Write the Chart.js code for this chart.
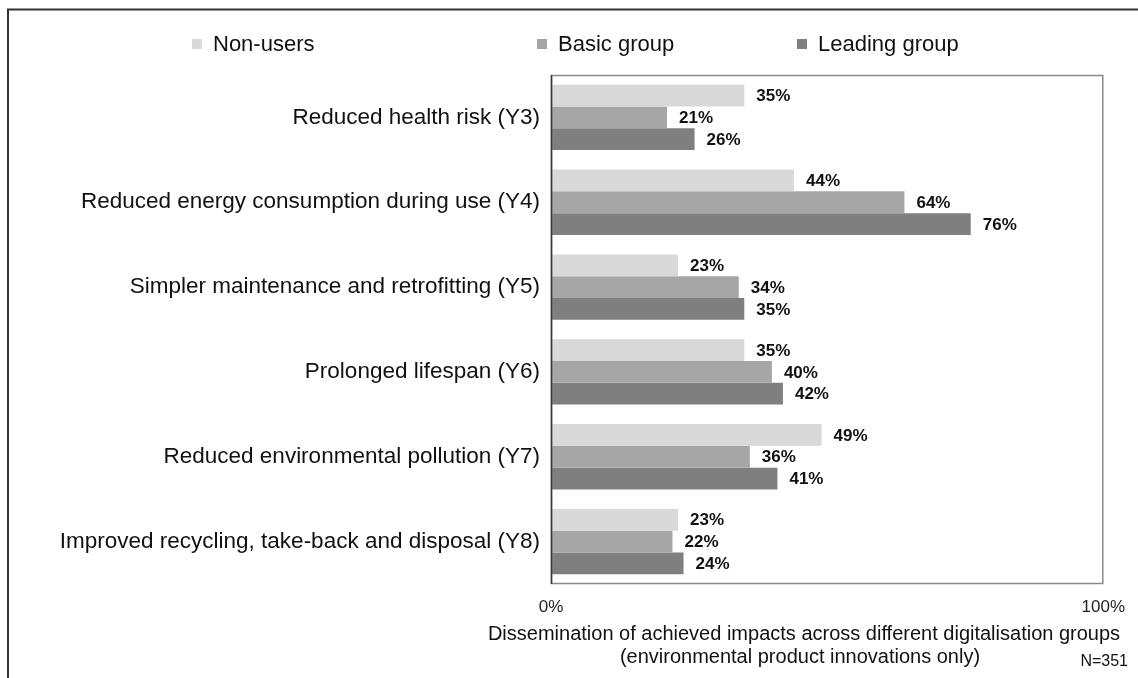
<!DOCTYPE html>
<html>
<head>
<meta charset="utf-8">
<script src="https://cdn.jsdelivr.net/npm/chart.js@4/dist/chart.umd.min.js"></script>
<style>
  html, body { margin: 0; padding: 0; background: #ffffff; }
  #wrap { position: relative; width: 1138px; height: 678px; }
  canvas { display: block; }
</style>
</head>
<body>
<div id="wrap"><canvas id="c" width="1138" height="678"></canvas></div>
<script>
// ---- data ----
const categories = [
  'Reduced health risk (Y3)',
  'Reduced energy consumption during use (Y4)',
  'Simpler maintenance and retrofitting (Y5)',
  'Prolonged lifespan (Y6)',
  'Reduced environmental pollution (Y7)',
  'Improved recycling, take-back and disposal (Y8)'
];
const seriesNames = ['Non-users', 'Basic group', 'Leading group'];
const nonUsers = [35, 44, 23, 35, 49, 23];
const basicGroup = [21, 64, 34, 40, 36, 22];
const leadingGroup = [26, 76, 35, 42, 41, 24];
const xTickValues = [0, 100];
const axisTitleLines = [
  'Dissemination of achieved impacts across different digitalisation groups',
  '(environmental product innovations only)'
];
const sampleNote = 'N=351';

// ---- styles ----
const colors = ['#d9d9d9', '#a6a6a6', '#7f7f7f'];
const FONT = '"Liberation Sans", Arial, sans-serif';

const decorPlugin = {
  id: 'decor',
  afterDatasetsDraw(chart) {
    const ctx = chart.ctx;
    ctx.save();
    ctx.font = 'bold 17px ' + FONT;
    ctx.fillStyle = '#111111';
    ctx.textAlign = 'left';
    ctx.textBaseline = 'middle';
    chart.data.datasets.forEach((ds, di) => {
      const meta = chart.getDatasetMeta(di);
      meta.data.forEach((el, i) => {
        ctx.fillText(ds.data[i] + '%', el.x + 12, el.y + 1);
      });
    });
    ctx.restore();
  },
  afterDraw(chart) {
    const ctx = chart.ctx;
    const a = chart.chartArea;
    ctx.save();
    // plot box
    ctx.strokeStyle = '#8a8a8a';
    ctx.lineWidth = 1.5;
    ctx.strokeRect(a.left + 0.5, a.top + 0.5, a.right - a.left - 1, a.bottom - a.top - 1);
    ctx.strokeStyle = '#3a3a3a';
    ctx.lineWidth = 1.5;
    ctx.beginPath();
    ctx.moveTo(a.left + 0.5, a.top);
    ctx.lineTo(a.left + 0.5, a.bottom);
    ctx.stroke();
    // outer frame (top and left)
    ctx.strokeStyle = '#333333';
    ctx.lineWidth = 2;
    ctx.beginPath();
    ctx.moveTo(8, 678);
    ctx.lineTo(8, 9.5);
    ctx.lineTo(1138, 9.5);
    ctx.stroke();
    // legend
    const legendX = [192, 537, 797];
    ctx.font = '22px ' + FONT;
    ctx.textBaseline = 'middle';
    ctx.textAlign = 'left';
    chart.data.datasets.forEach((ds, i) => {
      ctx.fillStyle = ds.backgroundColor;
      ctx.fillRect(legendX[i], 39, 10, 10);
      ctx.fillStyle = '#111111';
      ctx.fillText(ds.label, legendX[i] + 21, 45);
    });
    // axis title
    ctx.font = '20px ' + FONT;
    ctx.textAlign = 'center';
    ctx.fillStyle = '#111111';
    ctx.fillText(axisTitleLines[0], 804, 634);
    ctx.fillText(axisTitleLines[1], 800, 657);
    ctx.font = '16px ' + FONT;
    ctx.textAlign = 'right';
    ctx.fillText(sampleNote, 1128, 662);
    ctx.restore();
  }
};

new Chart(document.getElementById('c'), {
  type: 'bar',
  data: {
    labels: categories,
    datasets: [
      { label: seriesNames[0], data: nonUsers, backgroundColor: colors[0] },
      { label: seriesNames[1], data: basicGroup, backgroundColor: colors[1] },
      { label: seriesNames[2], data: leadingGroup, backgroundColor: colors[2] }
    ]
  },
  options: {
    indexAxis: 'y',
    responsive: false,
    devicePixelRatio: 1,
    animation: false,
    datasets: { bar: { categoryPercentage: 0.77, barPercentage: 1.0, borderWidth: 0 } },
    layout: { padding: { top: 75, right: 27, left: 0, bottom: 0 } },
    plugins: { legend: { display: false }, tooltip: { enabled: false } },
    scales: {
      x: {
        min: 0, max: 100,
        afterBuildTicks(s) { s.ticks = xTickValues.map(v => ({ value: v })); },
        afterFit(s) { s.height = 94; },
        grid: { display: false, drawTicks: false },
        border: { display: false },
        ticks: {
          callback: v => v + '%',
          font: { family: FONT, size: 17 },
          color: '#222222',
          padding: 13,
          maxRotation: 0
        }
      },
      y: {
        afterFit(s) { s.width = 551; },
        grid: { display: false, drawTicks: false },
        border: { display: false },
        ticks: {
          font: { family: FONT, size: 22.5 },
          color: '#111111',
          padding: 11
        }
      }
    }
  },
  plugins: [decorPlugin]
});
</script>
</body>
</html>
